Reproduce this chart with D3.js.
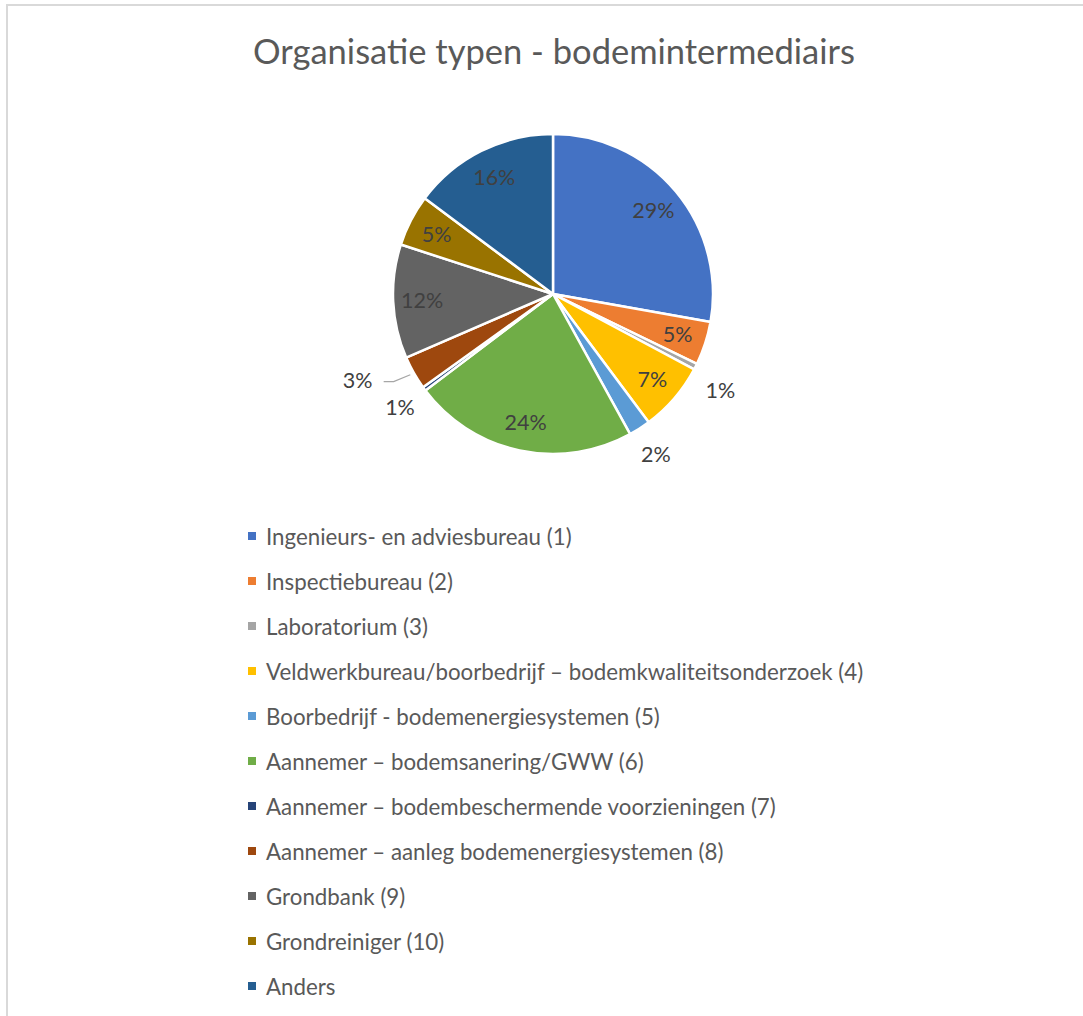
<!DOCTYPE html>
<html>
<head>
<meta charset="utf-8">
<script src="https://cdn.jsdelivr.net/npm/d3@7"></script>
<style>
  html, body { margin: 0; padding: 0; background: #fff; }
  svg { display: block; font-family: Lato, "Open Sans", sans-serif; }
</style>
</head>
<body>
<div id="chart"></div>
<script>
'use strict';

// categories, slice shares and the printed data labels
var categories = [
  'Ingenieurs- en adviesbureau (1)',
  'Inspectiebureau (2)',
  'Laboratorium (3)',
  'Veldwerkbureau/boorbedrijf – bodemkwaliteitsonderzoek (4)',
  'Boorbedrijf - bodemenergiesystemen (5)',
  'Aannemer – bodemsanering/GWW (6)',
  'Aannemer – bodembeschermende voorzieningen (7)',
  'Aannemer – aanleg bodemenergiesystemen (8)',
  'Grondbank (9)',
  'Grondreiniger (10)',
  'Anders'
];
var shares = [27.8, 4.4, 0.6, 7.0, 2.2, 22.7, 0.4, 3.4, 11.5, 5.2, 14.8];
var pctLabels = ['29%', '5%', '1%', '7%', '2%', '24%', '1%', '3%', '12%', '5%', '16%'];
var colors = ['#4472C4', '#ED7D31', '#A5A5A5', '#FFC000', '#5B9BD5', '#70AD47',
              '#264478', '#9E480E', '#636363', '#997300', '#255E91'];

var width = 1083;
var height = 1016;
var cx = 553, cy = 294, radius = 160;

var svg = d3.select('#chart')
  .append('svg')
  .attr('width', width)
  .attr('height', height);

// chart area border (runs off the right/bottom edge in the screenshot)
svg.append('rect')
  .attr('x', 7).attr('y', 5)
  .attr('width', 1200).attr('height', 1200)
  .attr('fill', '#fff')
  .attr('stroke', '#d9d9d9')
  .attr('stroke-width', 2);

svg.append('text')
  .attr('x', 554).attr('y', 50)
  .attr('text-anchor', 'middle')
  .attr('dominant-baseline', 'central')
  .attr('fill', '#595959')
  .style('font-size', '34.5px')
  .text('Organisatie typen - bodemintermediairs');

var data = categories.map(function(c, i) {
  return { label: c, value: shares[i], pct: pctLabels[i], color: colors[i] };
});

var pie = d3.pie()
  .value(function(d) { return d.value; })
  .sort(null);

var arc = d3.arc()
  .innerRadius(0)
  .outerRadius(radius);

var inLabelArc = d3.arc().innerRadius(131).outerRadius(131);
var outLabelArc = d3.arc().innerRadius(190).outerRadius(190);

var g = svg.append('g')
  .attr('transform', 'translate(' + cx + ',' + cy + ')');

var arcs = pie(data);

g.selectAll('path')
  .data(arcs)
  .enter()
  .append('path')
  .attr('d', arc)
  .attr('fill', function(d) { return d.data.color; })
  .attr('stroke', '#fff')
  .attr('stroke-width', 2.5)
  .attr('stroke-linejoin', 'round');

// small slices get their label outside; a few need a nudge like in Excel
var nudge = { 2: [-2, 10], 7: [-30, -8] };

// leader line for the 3% slice
var brown = arcs[7];
var mid = (brown.startAngle + brown.endAngle) / 2;
var p0 = [Math.sin(mid) * 164, -Math.cos(mid) * 164];
var lp = outLabelArc.centroid(brown);
var p2 = [lp[0] + nudge[7][0] + 26, lp[1] + nudge[7][1] + 2];
g.append('path')
  .attr('d', d3.line()([p0, [p2[0] + 10, p2[1]], p2]))
  .attr('fill', 'none')
  .attr('stroke', '#a6a6a6')
  .attr('stroke-width', 1.2);

g.selectAll('text.pct')
  .data(arcs)
  .enter()
  .append('text')
  .attr('class', 'pct')
  .attr('transform', function(d, i) {
    var inside = d.data.value >= 4;
    var c = inside ? inLabelArc.centroid(d) : outLabelArc.centroid(d);
    var n = nudge[i] || [0, 0];
    return 'translate(' + (c[0] + n[0]) + ',' + (c[1] + n[1]) + ')';
  })
  .attr('text-anchor', 'middle')
  .attr('dominant-baseline', 'central')
  .attr('fill', '#404040')
  .style('font-size', '21.5px')
  .text(function(d) { return d.data.pct; });

// legend
var legendY = d3.scalePoint()
  .domain(categories)
  .range([536, 986]);

var legend = svg.selectAll('g.legend')
  .data(data)
  .enter()
  .append('g')
  .attr('class', 'legend')
  .attr('transform', function(d) { return 'translate(248,' + legendY(d.label) + ')'; });

legend.append('rect')
  .attr('x', 0).attr('y', -4)
  .attr('width', 8).attr('height', 8)
  .attr('fill', function(d) { return d.color; });

legend.append('text')
  .attr('x', 18)
  .attr('dominant-baseline', 'central')
  .attr('fill', '#595959')
  .style('font-size', '22.3px')
  .text(function(d) { return d.label; });
</script>
</body>
</html>
